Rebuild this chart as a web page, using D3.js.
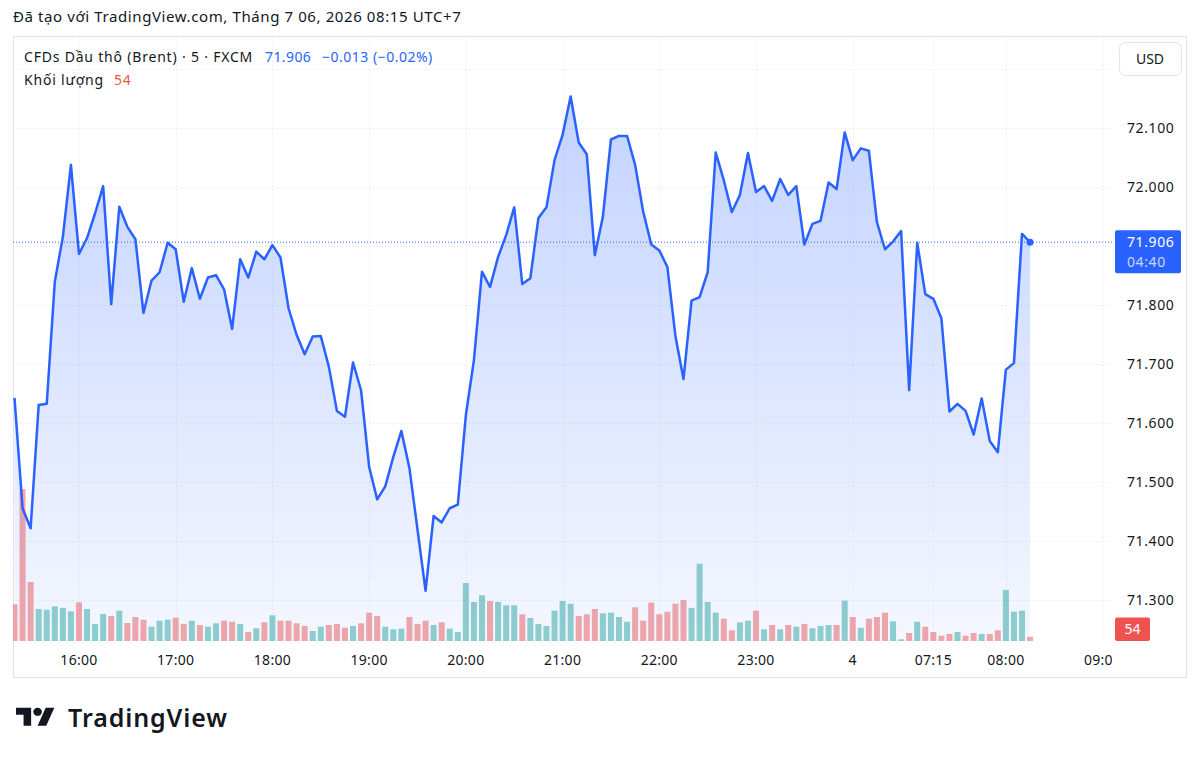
<!DOCTYPE html>
<html>
<head>
<meta charset="utf-8">
<script src="https://cdn.jsdelivr.net/npm/d3@7"></script>
<style>
  body { margin: 0; background: #fff; }
  text { font-family: "Noto Sans", Roboto, sans-serif; }
</style>
</head>
<body>
<div id="chart"></div>
<script>
// 5-minute closes, Brent CFD (FXCM)
const prices = [71.642,71.455,71.421,71.630,71.632,71.839,71.915,72.037,71.886,71.913,
  71.955,72.001,71.801,71.966,71.932,71.911,71.786,71.841,71.855,71.905,
  71.894,71.805,71.862,71.810,71.846,71.850,71.826,71.759,71.877,71.846,
  71.890,71.877,71.901,71.880,71.794,71.749,71.716,71.746,71.747,71.695,
  71.620,71.610,71.702,71.655,71.525,71.470,71.492,71.542,71.586,71.523,
  71.419,71.315,71.442,71.431,71.455,71.461,71.613,71.706,71.856,71.830,
  71.881,71.918,71.965,71.835,71.845,71.947,71.965,72.045,72.088,72.153,
  72.075,72.055,71.884,71.949,72.080,72.086,72.086,72.037,71.958,71.902,
  71.892,71.864,71.747,71.674,71.807,71.813,71.855,72.058,72.011,71.957,
  71.986,72.057,71.991,72.001,71.976,72.013,71.986,72.001,71.902,71.937,
  71.942,72.007,71.996,72.092,72.045,72.065,72.061,71.940,71.894,71.907,
  71.925,71.655,71.905,71.818,71.810,71.777,71.619,71.632,71.620,71.580,
  71.641,71.569,71.550,71.690,71.701,71.920,71.906]

const volumes = [459,1900,738,400,391,434,413,371,484,400,
  213,338,313,379,225,300,266,179,254,266,
  291,213,254,200,179,221,254,241,213,113,
  159,234,321,254,254,221,188,125,179,200,
  213,166,188,221,354,313,179,146,154,300,
  213,254,200,234,154,113,725,488,571,500,
  488,446,446,334,288,213,188,379,500,466,
  313,334,400,346,354,300,241,421,254,479,
  334,366,466,513,413,966,488,354,279,134,
  234,254,379,146,200,146,200,179,213,159,
  188,200,200,504,300,166,279,300,354,246,
  21,100,241,179,113,66,88,113,66,100,
  88,88,134,638,366,379,54]

// 1 = up candle (teal), 0 = down candle (red)
const volUp = [0,0,0,1,1,1,1,1,0,1, 1,1,0,1,0,0,0,1,1,1, 0,0,1,0,1,1,0,0,1,0,
  1,0,1,0,0,0,0,1,1,0, 0,0,1,0,0,0,1,1,1,0, 0,0,1,0,1,1,1,1,1,0,
  1,1,1,0,1,1,1,1,1,1, 0,0,0,1,1,1,1,0,0,0, 0,0,0,0,1,1,1,1,0,0,
  1,1,0,1,0,1,0,1,0,1, 1,1,0,1,0,1,0,0,0,1, 1,0,1,0,0,0,0,1,0,0,
  1,0,0,1,1,1,0]

const timeTickIdx = [8, 20, 32, 44, 56, 68, 80, 92, 104, 114, 123, 135]
const timeTickLabels = ["16:00", "17:00", "18:00", "19:00", "20:00", "21:00", "22:00", "23:00", "4", "07:15", "08:00", "09:00"]
const gridPrices = [72.2, 72.1, 72.0, 71.9, 71.8, 71.7, 71.6, 71.5, 71.4, 71.3]
// 71.900 sits under the last-price label, so it is not drawn
const priceTicks = [72.1, 72.0, 71.8, 71.7, 71.6, 71.5, 71.4, 71.3]

const lastPrice = 71.906
const changeText = "\u22120.013 (\u22120.02%)"
const countdown = "04:40"

const W = 1200, H = 759
const plot = { left: 13, right: 1113, top: 37, bottom: 641 }
const blue = "#2962FF", red = "#ef5350"

const svg = d3.select("#chart").append("svg")
  .attr("width", W).attr("height", H)
  .style("display", "block")
svg.append("rect").attr("width", W).attr("height", H).attr("fill", "#fff")

const x = d3.scaleLinear().domain([0, prices.length - 1]).range([14.5, 14.5 + (prices.length - 1) * 8.06])
const y = d3.scaleLinear().domain([71.3, 72.1]).range([599.7, 127.7])
const yVol = d3.scaleLinear().domain([0, 2000]).range([plot.bottom, plot.bottom - 160])

const defs = svg.append("defs")
defs.append("clipPath").attr("id", "plotClip").append("rect")
  .attr("x", plot.left).attr("y", plot.top)
  .attr("width", plot.right - plot.left).attr("height", plot.bottom - plot.top)
defs.append("clipPath").attr("id", "timeClip").append("rect")
  .attr("x", plot.left).attr("y", plot.bottom)
  .attr("width", plot.right - plot.left - 1).attr("height", 36)
const grad = defs.append("linearGradient").attr("id", "areaGrad")
  .attr("gradientUnits", "userSpaceOnUse")
  .attr("x1", 0).attr("y1", y(d3.max(prices))).attr("x2", 0).attr("y2", plot.bottom)
grad.append("stop").attr("offset", 0).attr("stop-color", blue).attr("stop-opacity", 0.28)
grad.append("stop").attr("offset", 1).attr("stop-color", blue).attr("stop-opacity", 0.05)

// header
svg.append("text").attr("x", 13).attr("y", 22)
  .attr("font-size", 15).attr("letter-spacing", 0.6).attr("fill", "#131722")
  .text("Đã tạo với TradingView.com, Tháng 7 06, 2026 08:15 UTC+7")

// frame
svg.append("rect").attr("x", 13.5).attr("y", 36.5).attr("width", 1173).attr("height", 641)
  .attr("fill", "none").attr("stroke", "#e0e3eb")

// grid
const grid = svg.append("g").attr("stroke", "#e0e3eb").attr("stroke-dasharray", "1,3")
grid.selectAll(".hg").data(gridPrices).enter().append("line")
  .attr("x1", plot.left).attr("x2", plot.right)
  .attr("y1", d => Math.round(y(d)) + 0.5).attr("y2", d => Math.round(y(d)) + 0.5)
grid.selectAll(".vg").data(timeTickIdx.filter(i => x(i) < plot.right)).enter().append("line")
  .attr("x1", d => Math.round(x(d)) + 0.5).attr("x2", d => Math.round(x(d)) + 0.5)
  .attr("y1", plot.top).attr("y2", plot.bottom)

const g = svg.append("g").attr("clip-path", "url(#plotClip)")

// volume
g.selectAll(".vol").data(volumes).enter().append("rect")
  .attr("x", (d, i) => x(i) - 3)
  .attr("width", 6)
  .attr("y", d => yVol(d))
  .attr("height", d => plot.bottom - yVol(d))
  .attr("fill", (d, i) => volUp[i] ? "rgba(38,166,154,0.5)" : "rgba(239,83,80,0.5)")

// area + line
const area = d3.area().x((d, i) => x(i)).y0(plot.bottom).y1(d => y(d))
const line = d3.line().x((d, i) => x(i)).y(d => y(d))
g.append("path").datum(prices).attr("d", area).attr("fill", "url(#areaGrad)")

// last price dotted line
g.append("line").attr("x1", plot.left).attr("x2", plot.right)
  .attr("y1", y(lastPrice)).attr("y2", y(lastPrice))
  .attr("stroke", blue).attr("stroke-width", 1).attr("stroke-dasharray", "1,2")

g.append("path").datum(prices).attr("d", line)
  .attr("fill", "none").attr("stroke", blue).attr("stroke-width", 2.5)
  .attr("stroke-linejoin", "round")
g.append("circle").attr("cx", x(prices.length - 1)).attr("cy", y(lastPrice))
  .attr("r", 3.5).attr("fill", blue)

// legend
const leg = svg.append("g").attr("font-size", 14).attr("letter-spacing", 0.8)
leg.append("text").attr("x", 24).attr("y", 62).attr("fill", "#131722")
  .text("CFDs Dầu thô (Brent) · 5 · FXCM")
leg.append("text").attr("x", 265).attr("y", 62).attr("fill", blue).attr("letter-spacing", 0.4).text(lastPrice.toFixed(3))
leg.append("text").attr("x", 322).attr("y", 62).attr("fill", blue).attr("letter-spacing", 0.5).text(changeText)
leg.append("text").attr("x", 24).attr("y", 85).attr("fill", "#131722").text("Khối lượng")
leg.append("text").attr("x", 114).attr("y", 85).attr("fill", red).text(volumes[volumes.length - 1])

// price scale
svg.append("g").selectAll("text").data(priceTicks).enter().append("text")
  .attr("x", 1127).attr("y", d => y(d)).attr("dy", "0.35em")
  .attr("font-size", 14).attr("letter-spacing", 0.6).attr("fill", "#131722")
  .text(d => d.toFixed(3))

svg.append("rect").attr("x", 1119.5).attr("y", 42.5).attr("width", 62).attr("height", 33).attr("rx", 6)
  .attr("fill", "#fff").attr("stroke", "#e0e3eb")
svg.append("text").attr("x", 1150).attr("y", 59).attr("dy", "0.35em").attr("text-anchor", "middle")
  .attr("font-size", 14).attr("fill", "#131722").text("USD")

const ly = y(lastPrice)
svg.append("rect").attr("x", 1115).attr("y", ly - 12).attr("width", 66).attr("height", 43).attr("rx", 2).attr("fill", blue)
svg.append("text").attr("x", 1127).attr("y", ly - 0.5).attr("dy", "0.35em").attr("font-size", 14)
  .attr("letter-spacing", 0.6).attr("fill", "#fff")
  .text(lastPrice.toFixed(3))
svg.append("text").attr("x", 1127).attr("y", ly + 19.5).attr("dy", "0.35em").attr("font-size", 14)
  .attr("letter-spacing", 0.6).attr("fill", "rgba(255,255,255,0.75)").text(countdown)

svg.append("rect").attr("x", 1115).attr("y", 617.5).attr("width", 35).attr("height", 23.5).attr("rx", 2).attr("fill", red)
svg.append("text").attr("x", 1132.5).attr("y", 629).attr("dy", "0.35em").attr("text-anchor", "middle")
  .attr("font-size", 14).attr("fill", "#fff").text(volumes[volumes.length - 1])

// time scale
svg.append("g").attr("clip-path", "url(#timeClip)")
  .selectAll("text").data(timeTickIdx).enter().append("text")
  .attr("x", d => x(d)).attr("y", 660).attr("dy", "0.35em").attr("text-anchor", "middle")
  .attr("font-size", 14).attr("letter-spacing", 0.3).attr("fill", "#131722")
  .text((d, i) => timeTickLabels[i])

// logo
const logo = svg.append("g").attr("transform", "translate(16,703.8) scale(1.08,1)").attr("fill", "#131722")
logo.append("path").attr("d", "M14 22H7V11H0V4h14v18zM28 22h-8l7.5-18h8L28 22z")
logo.append("circle").attr("cx", 20).attr("cy", 8).attr("r", 4)
svg.append("text").attr("x", 68).attr("y", 727).attr("font-size", 25).attr("font-weight", 600)
  .attr("textLength", 159).attr("lengthAdjust", "spacing")
  .attr("fill", "#131722").text("TradingView")
</script>
</body>
</html>
